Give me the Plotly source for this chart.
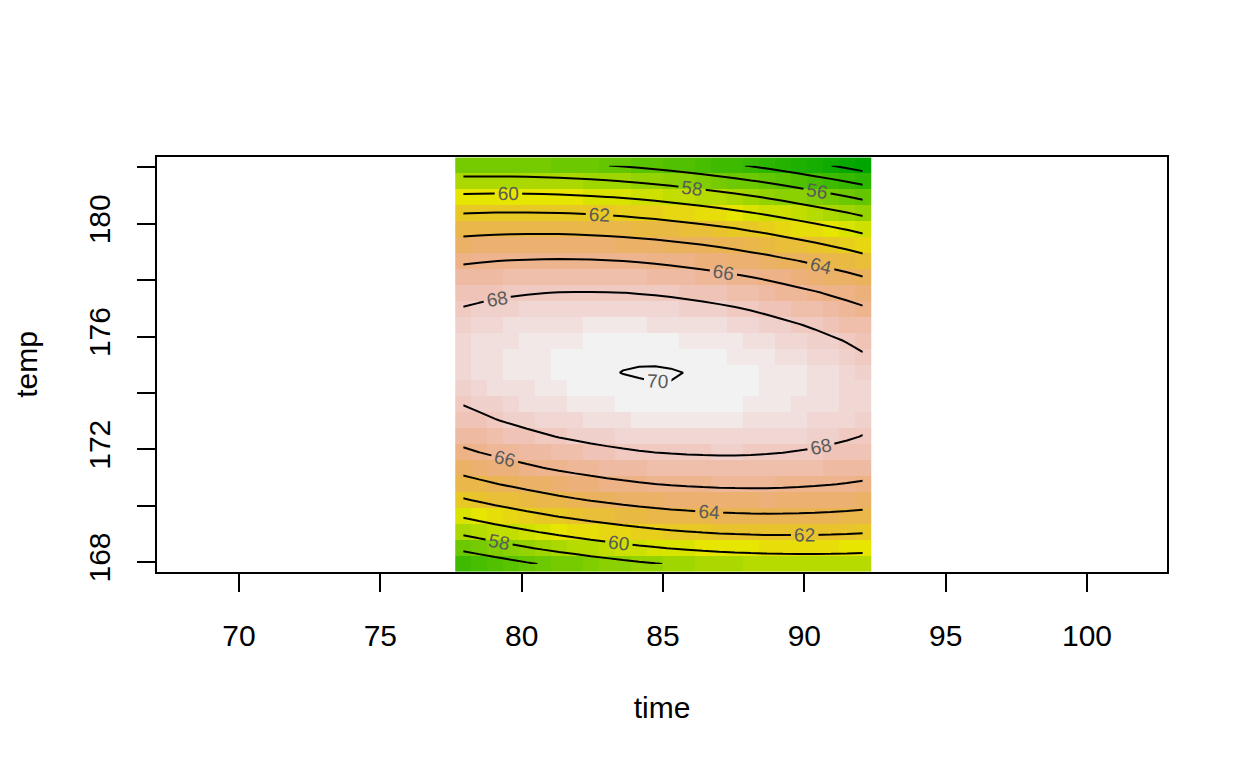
import colorsys
import numpy as np
import plotly.graph_objects as go

# grid coordinates (cell centres)
time_grid = [77.93, 78.49, 79.06, 79.63, 80.19, 80.76, 81.32, 81.89, 82.45, 83.02,
             83.59, 84.15, 84.72, 85.28, 85.85, 86.41, 86.98, 87.55, 88.11, 88.68,
             89.24, 89.81, 90.37, 90.94, 91.51, 92.07]
temp_grid = [167.93, 168.49, 169.06, 169.63, 170.19, 170.76, 171.32, 171.89, 172.45, 173.02,
             173.59, 174.15, 174.72, 175.28, 175.85, 176.41, 176.98, 177.55, 178.11, 178.68,
             179.24, 179.81, 180.37, 180.94, 181.51, 182.07]

# response values, one list per time column (temp ascending)
z_by_time = [
    [54.27, 56.41, 58.39, 60.19, 61.82, 63.28, 64.57, 65.69, 66.64, 67.42, 68.03, 68.46, 68.73, 68.82, 68.74, 68.50, 68.08, 67.49, 66.73, 65.80, 64.69, 63.42, 61.98, 60.36, 58.57, 56.62],
    [54.67, 56.80, 58.76, 60.55, 62.16, 63.61, 64.88, 65.99, 66.92, 67.68, 68.27, 68.69, 68.94, 69.02, 68.93, 68.66, 68.23, 67.62, 66.85, 65.90, 64.78, 63.49, 62.03, 60.40, 58.60, 56.63],
    [55.07, 57.18, 59.13, 60.90, 62.50, 63.93, 65.19, 66.27, 67.19, 67.94, 68.51, 68.91, 69.15, 69.21, 69.10, 68.82, 68.37, 67.75, 66.96, 65.99, 64.86, 63.55, 62.08, 60.43, 58.61, 56.62],
    [55.44, 57.53, 59.46, 61.21, 62.80, 64.21, 65.45, 66.53, 67.43, 68.16, 68.72, 69.10, 69.32, 69.37, 69.24, 68.95, 68.48, 67.84, 67.03, 66.05, 64.90, 63.58, 62.09, 60.43, 58.59, 56.59],
    [55.79, 57.87, 59.78, 61.52, 63.09, 64.49, 65.71, 66.77, 67.65, 68.37, 68.91, 69.28, 69.48, 69.51, 69.37, 69.06, 68.58, 67.92, 67.10, 66.10, 64.94, 63.60, 62.09, 60.41, 58.56, 56.54],
    [56.12, 58.19, 60.08, 61.80, 63.36, 64.74, 65.95, 66.99, 67.86, 68.55, 69.08, 69.44, 69.62, 69.64, 69.48, 69.15, 68.65, 67.98, 67.14, 66.13, 64.95, 63.60, 62.07, 60.38, 58.51, 56.47],
    [56.44, 58.49, 60.37, 62.08, 63.61, 64.98, 66.17, 67.20, 68.05, 68.73, 69.24, 69.58, 69.75, 69.75, 69.58, 69.23, 68.72, 68.03, 67.18, 66.15, 64.95, 63.58, 62.04, 60.33, 58.45, 56.40],
    [56.73, 58.76, 60.63, 62.32, 63.84, 65.19, 66.37, 67.37, 68.21, 68.88, 69.37, 69.69, 69.81, 69.79, 69.64, 69.28, 68.75, 68.05, 67.18, 66.13, 64.92, 63.53, 61.98, 60.25, 58.35, 56.29],
    [57.01, 59.02, 60.87, 62.55, 64.05, 65.38, 66.55, 67.54, 68.36, 69.01, 69.49, 69.79, 69.89, 69.86, 69.69, 69.32, 68.77, 68.05, 67.17, 66.11, 64.88, 63.47, 61.90, 60.16, 58.25, 56.16],
    [57.26, 59.26, 61.09, 62.75, 64.24, 65.56, 66.71, 67.68, 68.49, 69.12, 69.58, 69.83, 69.96, 69.91, 69.73, 69.33, 68.77, 68.04, 67.13, 66.06, 64.81, 63.40, 61.81, 60.05, 58.12, 56.02],
    [57.51, 59.49, 61.31, 62.95, 64.42, 65.72, 66.86, 67.81, 68.60, 69.22, 69.67, 69.90, 70.01, 69.94, 69.75, 69.34, 68.76, 68.01, 67.09, 66.00, 64.74, 63.30, 61.70, 59.93, 57.98, 55.86],
    [57.72, 59.69, 61.49, 63.11, 64.57, 65.86, 66.97, 67.92, 68.69, 69.29, 69.72, 69.94, 70.03, 69.95, 69.74, 69.31, 68.72, 67.95, 67.02, 65.91, 64.63, 63.18, 61.56, 59.77, 57.81, 55.68],
    [57.92, 59.88, 61.66, 63.27, 64.71, 65.98, 67.08, 68.01, 68.76, 69.35, 69.76, 69.97, 70.04, 69.94, 69.71, 69.27, 68.66, 67.88, 66.93, 65.81, 64.51, 63.05, 61.41, 59.61, 57.63, 55.48],
    [58.10, 60.04, 61.81, 63.40, 64.83, 66.08, 67.16, 68.07, 68.81, 69.38, 69.78, 69.97, 70.03, 69.91, 69.67, 69.21, 68.59, 67.79, 66.82, 65.68, 64.37, 62.89, 61.24, 59.42, 57.43, 55.26],
    [58.26, 60.18, 61.93, 63.51, 64.92, 66.16, 67.22, 68.12, 68.84, 69.40, 69.78, 69.95, 69.99, 69.86, 69.60, 69.13, 68.49, 67.68, 66.69, 65.54, 64.21, 62.71, 61.05, 59.21, 57.20, 55.02],
    [58.41, 60.31, 62.05, 63.61, 65.00, 66.22, 67.27, 68.15, 68.86, 69.40, 69.77, 69.92, 69.95, 69.80, 69.53, 69.04, 68.38, 67.55, 66.55, 65.38, 64.04, 62.53, 60.84, 58.99, 56.96, 54.77],
    [58.53, 60.42, 62.14, 63.69, 65.06, 66.27, 67.30, 68.17, 68.86, 69.38, 69.73, 69.87, 69.88, 69.76, 69.43, 68.93, 68.25, 67.41, 66.39, 65.20, 63.84, 62.32, 60.62, 58.75, 56.70, 54.49],
    [58.64, 60.51, 62.21, 63.74, 65.10, 66.29, 67.31, 68.16, 68.84, 69.34, 69.68, 69.80, 69.80, 69.66, 69.31, 68.79, 68.10, 67.24, 66.21, 65.00, 63.63, 62.09, 60.37, 58.48, 56.43, 54.20],
    [58.72, 60.58, 62.26, 63.78, 65.12, 66.30, 67.30, 68.13, 68.79, 69.28, 69.60, 69.75, 69.73, 69.53, 69.17, 68.63, 67.93, 67.05, 66.00, 64.78, 63.39, 61.83, 60.10, 58.20, 56.12, 53.88],
    [58.79, 60.63, 62.30, 63.80, 65.13, 66.29, 67.27, 68.09, 68.74, 69.21, 69.51, 69.64, 69.61, 69.40, 69.02, 68.46, 67.74, 66.85, 65.79, 64.55, 63.14, 61.57, 59.82, 57.90, 55.81, 53.55],
    [58.83, 60.65, 62.31, 63.79, 65.10, 66.25, 67.22, 68.02, 68.65, 69.10, 69.39, 69.51, 69.45, 69.23, 68.83, 68.26, 67.53, 66.62, 65.54, 64.28, 62.86, 61.27, 59.51, 57.57, 55.47, 53.19],
    [58.86, 60.67, 62.30, 63.77, 65.07, 66.19, 67.15, 67.93, 68.55, 68.99, 69.26, 69.36, 69.29, 69.05, 68.64, 68.05, 67.30, 66.37, 65.28, 64.01, 62.57, 60.96, 59.18, 57.23, 55.11, 52.82],
    [58.87, 60.67, 62.29, 63.74, 65.02, 66.13, 67.07, 67.84, 68.44, 68.86, 69.12, 69.20, 69.11, 68.86, 68.43, 67.83, 67.06, 66.12, 65.00, 63.72, 62.27, 60.64, 58.85, 56.88, 54.74, 52.44],
    [58.86, 60.64, 62.24, 63.68, 64.94, 66.04, 66.96, 67.71, 68.29, 68.70, 68.94, 69.01, 68.91, 68.63, 68.19, 67.57, 66.79, 65.83, 64.70, 63.40, 61.93, 60.29, 58.48, 56.50, 54.35, 52.02],
    [58.83, 60.59, 62.18, 63.60, 64.85, 65.93, 66.84, 67.57, 68.14, 68.53, 68.75, 68.81, 68.69, 68.40, 67.94, 67.31, 66.51, 65.53, 64.39, 63.07, 61.59, 59.93, 58.10, 56.10, 53.93, 51.59],
    [58.78, 60.53, 62.10, 63.51, 64.74, 65.80, 66.69, 67.41, 67.96, 68.34, 68.55, 68.58, 68.45, 68.14, 67.67, 67.02, 66.20, 65.21, 64.05, 62.72, 61.22, 59.55, 57.70, 55.69, 53.51, 51.15],
]

x_ticks = [70, 75, 80, 85, 90, 95, 100]
y_ticks = [168, 170, 172, 174, 176, 178, 180, 182]
y_ticktext = ["168", "", "172", "", "176", "", "180", ""]
contour_start, contour_end, contour_step = 52, 70, 2

Z = np.array(z_by_time).T  # rows = temp, cols = time

# terrain.colors(50) as a stepped colour scale
def terrain_colors(n):
    k = n // 2
    cols = []
    hs = np.linspace(4 / 12, 2 / 12, k)
    vs = np.linspace(0.65, 0.9, k)
    for h, v in zip(hs, vs):
        cols.append(colorsys.hsv_to_rgb(h, 1.0, v))
    hs2 = np.linspace(2 / 12, 0, n - k + 1)[1:]
    ss2 = np.linspace(1, 0, n - k + 1)[1:]
    vs2 = np.linspace(0.9, 0.95, n - k + 1)[1:]
    for h, s, v in zip(hs2, ss2, vs2):
        cols.append(colorsys.hsv_to_rgb(h, s, v))
    return ["rgb(%d,%d,%d)" % tuple(int(round(c * 255)) for c in rgb) for rgb in cols]

ncol = 50
tc = terrain_colors(ncol)
colorscale = []
for i, c in enumerate(tc):
    colorscale.append([i / ncol, c])
    colorscale.append([(i + 1) / ncol, c])

font_family = "Liberation Sans, Arial, Helvetica, sans-serif"

fig = go.Figure()
fig.add_trace(go.Heatmap(
    x=time_grid, y=temp_grid, z=Z,
    zmin=float(Z.min()), zmax=float(Z.max()),
    colorscale=colorscale, showscale=False, hoverinfo="skip",
))
fig.add_trace(go.Contour(
    x=time_grid, y=temp_grid, z=Z,
    autocontour=False,
    contours=dict(start=contour_start, end=contour_end, size=contour_step,
                  coloring="none", showlabels=True,
                  labelfont=dict(size=19, color="#5a5a5a", family=font_family)),
    line=dict(color="black", width=2, smoothing=0),
    showscale=False, hoverinfo="skip",
))

axis_common = dict(
    showgrid=False, zeroline=False, showline=True, linecolor="black", linewidth=2,
    mirror=True, ticks="outside", ticklen=18, tickwidth=2, tickcolor="black",
    tickfont=dict(size=30, color="black", family=font_family),
)

fig.update_layout(
    width=1248, height=768, autosize=False,
    margin=dict(l=157, r=81, t=157, b=196),
    paper_bgcolor="white", plot_bgcolor="white",
    font=dict(family=font_family, color="black"),
    showlegend=False,
    xaxis=dict(range=[67.099, 102.83], tickvals=x_ticks, ticktext=[str(v) for v in x_ticks],
               ticklabelstandoff=18,
               title=dict(text="time", font=dict(size=30, family=font_family), standoff=46),
               **axis_common),
    yaxis=dict(range=[167.645, 182.37], tickvals=y_ticks, ticktext=y_ticktext, tickangle=-90,
               ticklabelstandoff=15,
               title=dict(text="temp", font=dict(size=30, family=font_family), standoff=37),
               **axis_common),
)

fig.write_html("out.html", config={"displayModeBar": False})
